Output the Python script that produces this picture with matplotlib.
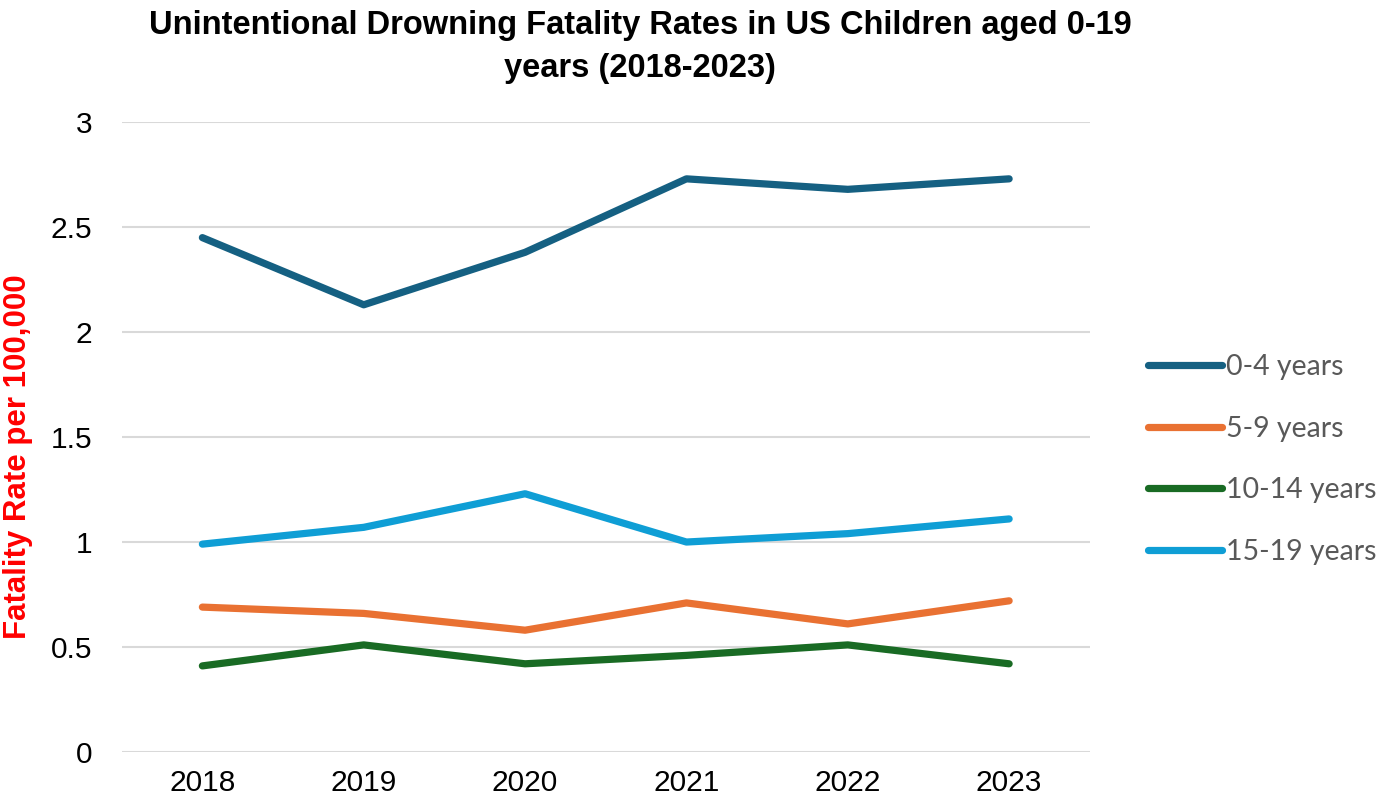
import matplotlib.pyplot as plt

# Chart data
years = ['2018', '2019', '2020', '2021', '2022', '2023']
age_0_4 = [2.45, 2.13, 2.38, 2.73, 2.68, 2.73]
age_5_9 = [0.69, 0.66, 0.58, 0.71, 0.61, 0.72]
age_10_14 = [0.41, 0.51, 0.42, 0.46, 0.51, 0.42]
age_15_19 = [0.99, 1.07, 1.23, 1.00, 1.04, 1.11]

series = [
    ('0-4 years', age_0_4, '#156082'),
    ('5-9 years', age_5_9, '#E97132'),
    ('10-14 years', age_10_14, '#196B24'),
    ('15-19 years', age_15_19, '#0F9ED5'),
]

plt.rcParams['font.family'] = ['Liberation Sans', 'DejaVu Sans']

fig = plt.figure(figsize=(13.83, 8.09), dpi=100)
ax = fig.add_axes([0.088, 0.0705, 0.700, 0.7785])

x = list(range(len(years)))
for label, vals, color in series:
    ax.plot(x, vals, color=color, linewidth=5.2, label=label,
            solid_capstyle='round', solid_joinstyle='round')

ax.set_xlim(-0.5, len(years) - 0.5)
ax.set_ylim(0, 3)
ax.set_xticks(x)
ax.set_xticklabels(years)
ax.set_yticks([0, 0.5, 1, 1.5, 2, 2.5, 3])
ax.set_yticklabels(['0', '0.5', '1', '1.5', '2', '2.5', '3'])
ax.tick_params(axis='both', length=0, labelsize=21.5, colors='black')
ax.tick_params(axis='y', pad=21)
ax.tick_params(axis='x', pad=12)
ax.grid(axis='y', color='#D9D9D9', linewidth=1.5)
ax.set_axisbelow(True)
for s in ax.spines.values():
    s.set_visible(False)

fig.text(0.013, 0.435, 'Fatality Rate per 100,000', color='red', fontsize=22.5,
         fontweight='bold', rotation=90, ha='center', va='center')

fig.suptitle('Unintentional Drowning Fatality Rates in US Children aged 0-19\nyears (2018-2023)',
             x=0.463, y=0.988, fontsize=23.5, fontweight='bold', linespacing=1.5)

leg = fig.legend(loc='center left', bbox_to_anchor=(0.830, 0.432), frameon=False,
                 borderaxespad=0, borderpad=0,
                 handlelength=2.6, handletextpad=0.15, labelspacing=1.26,
                 prop={'family': ['Lato', 'DejaVu Sans'], 'size': 20.5})
for t in leg.get_texts():
    t.set_color('#595959')

fig.savefig('out.png', dpi=100)
